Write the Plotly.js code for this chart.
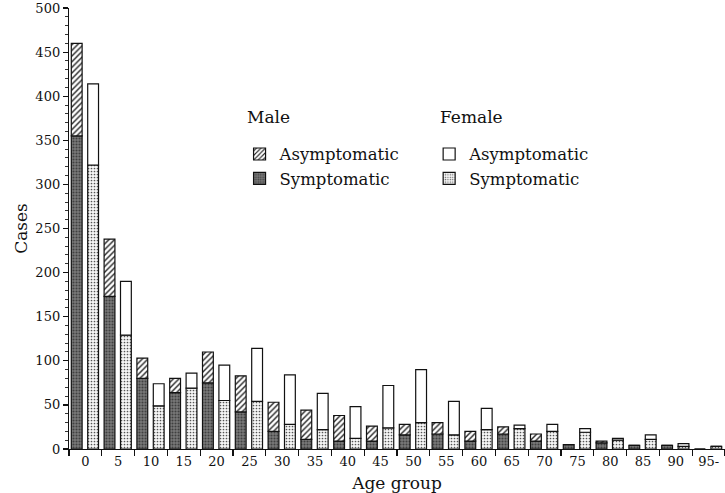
<!DOCTYPE html>
<html>
<head>
<meta charset="utf-8">
<script src="https://cdn.plot.ly/plotly-3.0.1.min.js"></script>
<style>html,body{margin:0;padding:0;background:#fff;}#chart{width:725px;height:493px;}</style>
</head>
<body>
<div id="chart"></div>
<script>
const ageGroups = ['0','5','10','15','20','25','30','35','40','45','50','55','60','65','70','75','80','85','90','95-'];
const maleSymptomatic   = [355,173,80,64,75,42,20,11,9,9,16,17,9,17,9,5,7,4,4,0];
const maleAsymptomatic  = [105,65,23,16,35,41,33,33,29,17,12,13,11,8,8,0,2,0,0,0];
const femaleSymptomatic = [322,129,49,69,55,54,28,22,12,24,30,16,22,23,20,19,10,11,3,3];
const femaleAsymptomatic= [92,61,25,17,40,60,56,41,36,48,60,38,24,4,8,4,2,5,3,0];

const FONT = 'DejaVu Serif, Liberation Serif, serif';
const line = {color:'#111', width:1.2};
const W = 0.33, OFF_M = -0.43, OFF_F = 0.07;

const traces = [
  {type:'bar', name:'Symptomatic', x:ageGroups, y:maleSymptomatic, base:0,
   offset:OFF_M, width:W, legend:'legend', legendrank:2,
   marker:{color:'#747474', line:line, pattern:{shape:'.', bgcolor:'#7a7a7a', fgcolor:'#404040', size:3, solidity:0.4}}},
  {type:'bar', name:'Asymptomatic', x:ageGroups, y:maleAsymptomatic, base:maleSymptomatic,
   offset:OFF_M, width:W, legend:'legend', legendrank:1,
   marker:{color:'#ffffff', line:line, pattern:{shape:'/', bgcolor:'#ffffff', fgcolor:'#222', size:4, solidity:0.35}}},
  {type:'bar', name:'Symptomatic', x:ageGroups, y:femaleSymptomatic, base:0,
   offset:OFF_F, width:W, legend:'legend2', legendrank:2,
   marker:{color:'#ffffff', line:line, pattern:{shape:'.', bgcolor:'#f6f6f6', fgcolor:'#555', size:3, solidity:0.25}}},
  {type:'bar', name:'Asymptomatic', x:ageGroups, y:femaleAsymptomatic, base:femaleSymptomatic,
   offset:OFF_F, width:W, legend:'legend2', legendrank:1,
   marker:{color:'#ffffff', line:line}}
];

const legendCommon = {
  font:{family:FONT, size:16.5, color:'#111'}, bgcolor:'rgba(0,0,0,0)',
  xanchor:'left', yanchor:'top', tracegroupgap:0, itemclick:false
};

const layout = {
  width:725, height:493,
  margin:{l:69, r:0, t:8, b:44},
  paper_bgcolor:'#ffffff', plot_bgcolor:'#ffffff',
  barmode:'overlay',
  font:{family:FONT, size:13, color:'#111'},
  showlegend:true,
  legend:Object.assign({x:0.26, y:0.708}, legendCommon),
  legend2:Object.assign({x:0.549, y:0.708}, legendCommon),
  xaxis:{
    type:'category', range:[-0.5,19.5],
    showline:true, linecolor:'#111', linewidth:1.2,
    ticks:'outside', tickson:'boundaries', ticklen:6, tickcolor:'#111', tickwidth:1.2,
    tickfont:{family:FONT, size:13, color:'#111'},
    title:{text:'Age group', font:{family:FONT, size:17, color:'#111'}, standoff:11},
    showgrid:false, zeroline:false, fixedrange:true
  },
  yaxis:{
    range:[0,500], tickvals:[0,50,100,150,200,250,300,350,400,450,500],
    ticklabeloverflow:'allow',
    showline:true, linecolor:'#111', linewidth:1.2,
    ticks:'outside', ticklen:5, tickcolor:'#111', tickwidth:1.2,
    minor:{dtick:10, ticks:'outside', ticklen:3, tickcolor:'#333', tickwidth:1},
    tickfont:{family:FONT, size:13, color:'#111'},
    title:{text:'Cases', font:{family:FONT, size:17, color:'#111'}, standoff:3},
    showgrid:false, zeroline:false, fixedrange:true
  },
  annotations:[
    {text:'Male', xref:'paper', yref:'paper', x:0.268, y:0.752, xanchor:'left', yanchor:'middle', showarrow:false,
     font:{family:FONT, size:17, color:'#111'}},
    {text:'Female', xref:'paper', yref:'paper', x:0.562, y:0.752, xanchor:'left', yanchor:'middle', showarrow:false,
     font:{family:FONT, size:17, color:'#111'}}
  ]
};

Plotly.newPlot('chart', traces, layout, {displayModeBar:false, staticPlot:true});
</script>
</body>
</html>
